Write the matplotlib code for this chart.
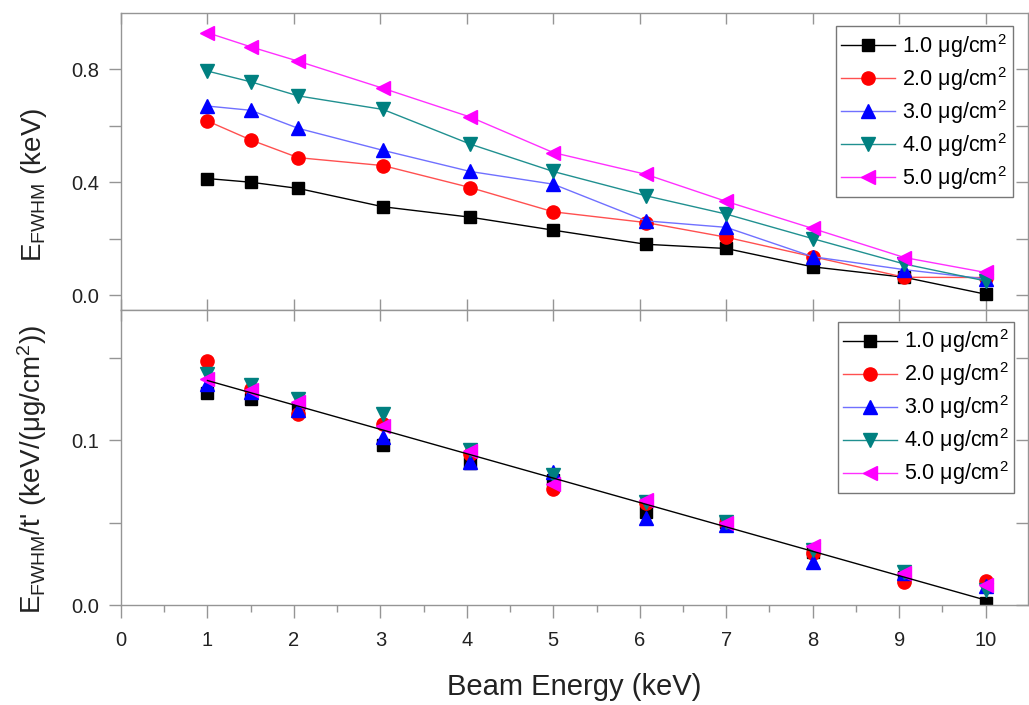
import numpy as np
import matplotlib
matplotlib.use("Agg")
import matplotlib.pyplot as plt
from matplotlib.ticker import MultipleLocator, FixedLocator
from matplotlib.lines import Line2D

plt.rcParams['font.family'] = ['Liberation Sans', 'DejaVu Sans']
plt.rcParams['mathtext.fontset'] = 'custom'
plt.rcParams['mathtext.rm'] = 'Liberation Sans'
plt.rcParams['mathtext.it'] = 'Liberation Sans:italic'

# ---- data ----
beam_energy = [1.0, 1.5, 2.05, 3.03, 4.04, 5.0, 6.07, 7.0, 8.0, 9.06, 10.0]
thickness_labels = ["1.0", "2.0", "3.0", "4.0", "5.0"]

# top panel: E_FWHM (keV)
fwhm_1 = [0.413, 0.400, 0.378, 0.313, 0.276, 0.230, 0.180, 0.165, 0.100, 0.063, 0.003]
fwhm_2 = [0.617, 0.550, 0.487, 0.459, 0.381, 0.295, 0.257, 0.205, 0.136, 0.063, 0.062]
fwhm_3 = [0.670, 0.655, 0.591, 0.513, 0.438, 0.393, 0.263, 0.240, 0.136, 0.090, 0.057]
fwhm_4 = [0.794, 0.756, 0.706, 0.658, 0.535, 0.438, 0.352, 0.287, 0.200, 0.110, 0.050]
fwhm_5 = [0.930, 0.880, 0.829, 0.733, 0.631, 0.505, 0.428, 0.332, 0.236, 0.133, 0.080]

# bottom panel: E_FWHM / t'
norm_1 = [0.1289, 0.1248, 0.1190, 0.0970, 0.0862, 0.0758, 0.0566, 0.0505, 0.0323, 0.0172, 0.0010]
norm_2 = [0.1479, 0.1313, 0.1162, 0.1097, 0.0915, 0.0701, 0.0616, 0.0497, 0.0313, 0.0141, 0.0145]
norm_3 = [0.1340, 0.1293, 0.1182, 0.1020, 0.0869, 0.0808, 0.0525, 0.0485, 0.0263, 0.0192, 0.0116]
norm_4 = [0.1404, 0.1333, 0.1247, 0.1162, 0.0939, 0.0788, 0.0626, 0.0501, 0.0333, 0.0198, 0.0091]
norm_5 = [0.1374, 0.1307, 0.1232, 0.1085, 0.0935, 0.0737, 0.0636, 0.0495, 0.0358, 0.0194, 0.0121]

# linear fit shown in the bottom panel
fit_intercept = 0.151
fit_slope = -0.0148
fit_range = [1.0, 10.0]

top_series = [fwhm_1, fwhm_2, fwhm_3, fwhm_4, fwhm_5]
bottom_series = [norm_1, norm_2, norm_3, norm_4, norm_5]

marker_colors = ['black', '#ff0000', '#0000ff', '#008080', '#ff00ff']
line_colors = ['black', '#ff5050', '#7070ff', '#209090', '#ff30ff']
markers = ['s', 'o', '^', 'v', '<']
marker_sizes = [8, 9.5, 9.5, 9.5, 10]

spine_gray = '#959595'
text_color = '#222222'

fig = plt.figure(figsize=(10.29, 7.05), dpi=100)
ax1 = fig.add_axes([0.1176, 0.5603, 0.8814, 0.4213])
ax2 = fig.add_axes([0.1176, 0.1418, 0.8814, 0.4185], sharex=ax1)

# --- top panel: lines + markers ---
for i in range(5):
    ax1.plot(beam_energy, top_series[i], color=line_colors[i], linewidth=1.0,
             marker=markers[i], markersize=marker_sizes[i],
             markerfacecolor=marker_colors[i], markeredgecolor=marker_colors[i],
             label=thickness_labels[i] + r" μg/cm$^{2}$")

# --- bottom panel: markers only + linear fit ---
for i in range(5):
    ax2.plot(beam_energy, bottom_series[i], linestyle='none',
             marker=markers[i], markersize=marker_sizes[i],
             markerfacecolor=marker_colors[i], markeredgecolor=marker_colors[i],
             zorder=2)
fit_x = np.array(fit_range)
ax2.plot(fit_x, fit_intercept + fit_slope * fit_x, color='black', linewidth=1.0, zorder=3)

ax1.set_xlim(0, 10.49)
ax1.set_ylim(-0.053, 1.0)
ax2.set_ylim(0, 0.179)

fmt1 = plt.FuncFormatter(lambda v, p: f"{v:.1f}")
ax1.yaxis.set_major_locator(FixedLocator([0.0, 0.4, 0.8]))
ax1.yaxis.set_minor_locator(FixedLocator([0.2, 0.6]))
ax1.yaxis.set_major_formatter(fmt1)
ax2.yaxis.set_major_locator(FixedLocator([0.0, 0.1]))
ax2.yaxis.set_minor_locator(FixedLocator([0.05, 0.15]))
ax2.yaxis.set_major_formatter(fmt1)
ax1.xaxis.set_major_locator(MultipleLocator(1))
ax2.xaxis.set_minor_locator(MultipleLocator(0.5))

for ax in (ax1, ax2):
    for s in ax.spines.values():
        s.set_color(spine_gray)
        s.set_linewidth(1.0)
    ax.tick_params(which='both', colors=spine_gray, labelcolor=text_color,
                   labelsize=14.5, width=1.0)
    ax.tick_params(axis='y', which='both', left=True, right=True, direction='out',
                   length=9, pad=7)
    # right-hand ticks point inward
    for t in ax.yaxis.get_major_ticks() + ax.yaxis.get_minor_ticks():
        t.tick2line.set_marker(matplotlib.lines.TICKLEFT)

ax1.tick_params(axis='x', which='major', bottom=True, top=True, direction='in',
                length=8, labelbottom=False)
ax1.tick_params(axis='x', which='minor', bottom=False, top=False)
ax2.tick_params(axis='x', which='major', bottom=True, top=True, direction='out',
                length=9, pad=10)
ax2.tick_params(axis='x', which='minor', bottom=True, top=False, direction='out', length=5)
for t in ax2.xaxis.get_major_ticks():
    t.tick2line.set_marker(matplotlib.lines.TICKDOWN)
    t.tick2line.set_markersize(8)

ax1.set_ylabel(r"E$_{\mathregular{FWHM}}$ (keV)", fontsize=20, color=text_color)
ax2.set_ylabel(r"E$_{\mathregular{FWHM}}$/t' (keV/(μg/cm$^{2}$))", fontsize=20, color=text_color)
ax1.yaxis.set_label_coords(-0.079, 0.42)
ax2.yaxis.set_label_coords(-0.079, 0.46)
ax2.set_xlabel("Beam Energy (keV)", fontsize=21, color=text_color, labelpad=16)

leg_kw = dict(loc='upper right', fontsize=15.5, frameon=True, fancybox=False,
              handlelength=2.5, handletextpad=0.35, borderpad=0.25, labelspacing=0.24,
              borderaxespad=0.0)
leg1 = ax1.legend(bbox_to_anchor=(0.983, 0.955), **leg_kw)
leg1.get_frame().set_edgecolor('#555555')
leg1.get_frame().set_linewidth(1.0)

handles2 = [Line2D([], [], color=line_colors[i], linewidth=1.0, marker=markers[i],
                   markersize=marker_sizes[i], markerfacecolor=marker_colors[i],
                   markeredgecolor=marker_colors[i]) for i in range(5)]
leg2 = ax2.legend(handles2, [l + r" μg/cm$^{2}$" for l in thickness_labels],
                  bbox_to_anchor=(0.985, 0.96), **leg_kw)
leg2.get_frame().set_edgecolor('#555555')
leg2.get_frame().set_linewidth(1.0)

fig.savefig("out.png", dpi=100)
